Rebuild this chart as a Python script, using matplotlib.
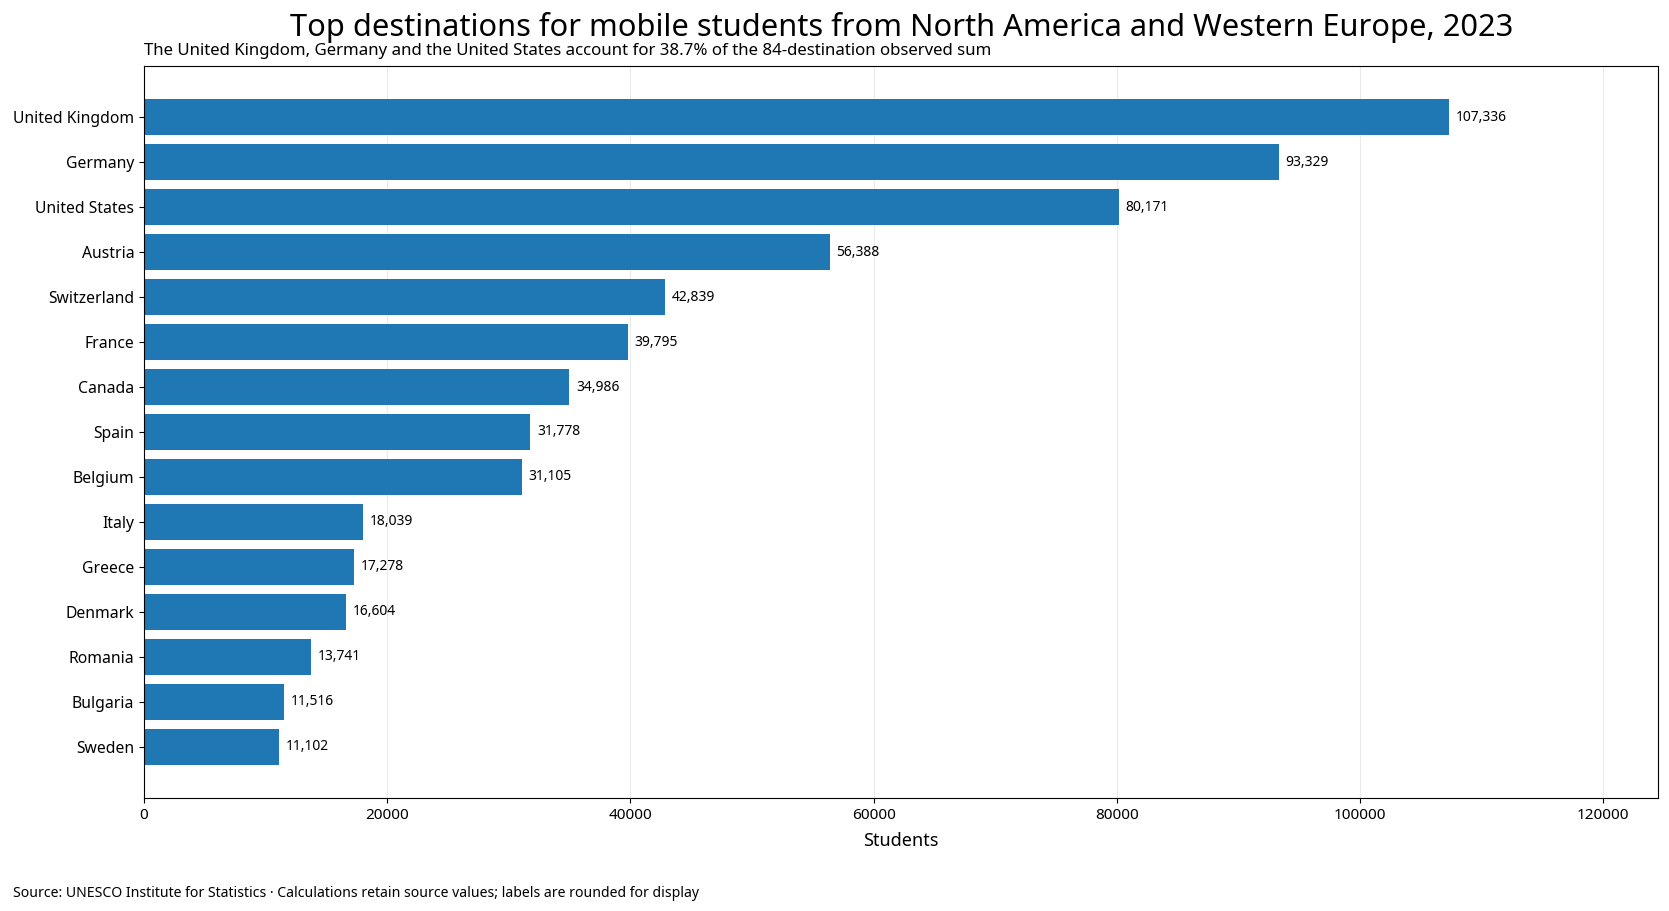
import matplotlib
matplotlib.use('Agg')
import matplotlib.pyplot as plt

plt.rcParams['font.family'] = ['Noto Sans', 'DejaVu Sans']

countries = ['United Kingdom', 'Germany', 'United States', 'Austria', 'Switzerland',
             'France', 'Canada', 'Spain', 'Belgium', 'Italy', 'Greece', 'Denmark',
             'Romania', 'Bulgaria', 'Sweden']
students = [107336, 93329, 80171, 56388, 42839, 39795, 34986, 31778, 31105,
            18039, 17278, 16604, 13741, 11516, 11102]

title = 'Top destinations for mobile students from North America and Western Europe, 2023'
subtitle = ('The United Kingdom, Germany and the United States account for 38.7% '
            'of the 84-destination observed sum')
source = ('Source: UNESCO Institute for Statistics \u00b7 Calculations retain source values; '
          'labels are rounded for display')

fig = plt.figure(figsize=(16.69, 9.11), dpi=100)
ax = fig.add_axes([0.0863, 0.124, 0.9071, 0.8036])

y = list(range(len(countries)))
bars = ax.barh(y, students, color='#1f77b4', height=0.8, zorder=2)
ax.set_yticks(y)
ax.set_yticklabels(countries, fontsize=11.3)
ax.invert_yaxis()
ax.set_xlim(0, max(students) * 1.16)
ax.tick_params(axis='x', labelsize=11)
ax.grid(axis='x', color='#ebebeb', linewidth=0.8, zorder=0)
ax.set_axisbelow(True)
ax.set_xlabel('Students', fontsize=13, labelpad=7)

for b, v in zip(bars, students):
    ax.text(b.get_width() + max(students) * 0.005, b.get_y() + b.get_height() / 2,
            f'{v:,}', va='center', ha='left', fontsize=10)

ax.set_title(subtitle, loc='left', fontsize=12.1, pad=8)
fig.text(0.54, 0.970, title, ha='center', va='center', fontsize=22.2)
fig.text(0.008, 0.019, source, ha='left', va='center', fontsize=10.1)

fig.savefig('out.png', dpi=100)
